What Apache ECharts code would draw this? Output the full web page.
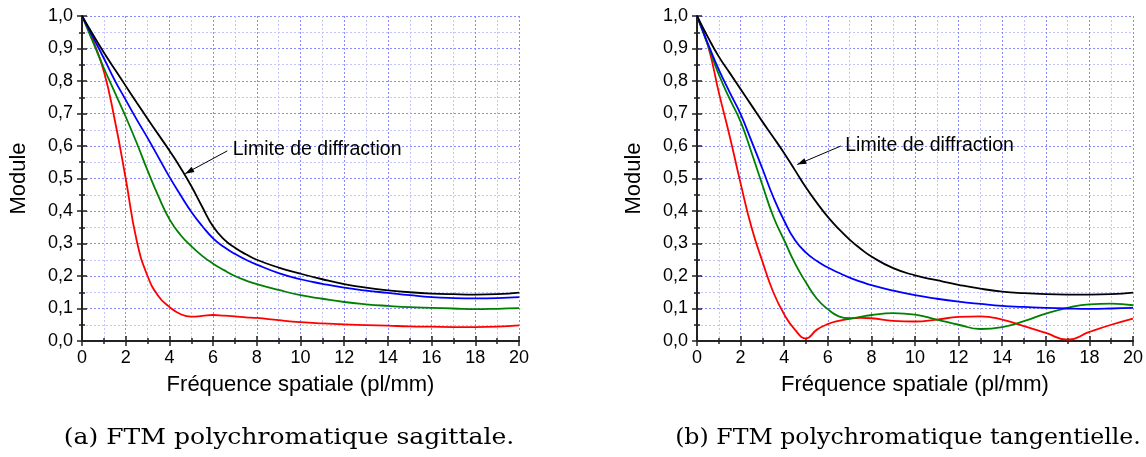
<!DOCTYPE html>
<html><head><meta charset="utf-8">
<script src="https://cdn.jsdelivr.net/npm/echarts@6/dist/echarts.min.js"></script>
<style>html,body{margin:0;padding:0;background:#fff}#c{width:1146px;height:457px}</style>
</head><body><div id="c"></div>
<script>
// ---- data (frequency pl/mm, modulus) ----
const sagBlack = [[0,1],[0.5,0.943],[1,0.888],[1.5,0.836],[2,0.785],[2.5,0.734],[3,0.684],[3.5,0.635],[4,0.586],[4.5,0.534],[5,0.477],[5.5,0.413],[6,0.352],[6.5,0.313],[7,0.287],[7.5,0.267],[8,0.25],[9,0.226],[10,0.207],[11,0.19],[12,0.175],[13,0.164],[14,0.156],[15,0.15],[16,0.146],[17,0.144],[18,0.143],[19,0.144],[20,0.149]];
const sagBlue = [[0,1],[0.5,0.935],[1,0.87],[1.5,0.802],[2,0.742],[2.5,0.682],[3,0.625],[3.5,0.565],[4,0.505],[4.5,0.45],[5,0.398],[5.5,0.354],[6,0.316],[6.5,0.289],[7,0.268],[7.5,0.25],[8,0.235],[9,0.209],[10,0.19],[11,0.176],[12,0.164],[13,0.155],[14,0.148],[15,0.141],[16,0.135],[17,0.132],[18,0.131],[19,0.132],[20,0.135]];
const sagGreen = [[0,1],[0.5,0.92],[1,0.84],[1.5,0.765],[2,0.69],[2.5,0.61],[3,0.525],[3.5,0.445],[4,0.375],[4.5,0.327],[5,0.292],[5.5,0.262],[6,0.238],[6.5,0.218],[7,0.2],[7.5,0.186],[8,0.175],[9,0.157],[10,0.141],[11,0.13],[12,0.12],[13,0.113],[14,0.108],[15,0.104],[16,0.102],[17,0.1],[18,0.098],[19,0.099],[20,0.101]];
const sagRed = [[0,1],[0.5,0.925],[1,0.83],[1.5,0.68],[2,0.5],[2.5,0.31],[3,0.2],[3.5,0.138],[4,0.105],[4.5,0.083],[5,0.075],[5.5,0.077],[6,0.08],[6.5,0.078],[7,0.076],[7.5,0.073],[8,0.071],[9,0.064],[10,0.058],[11,0.054],[12,0.051],[13,0.049],[14,0.047],[15,0.045],[16,0.044],[17,0.043],[18,0.043],[19,0.044],[20,0.048]];

const tanBlack = [[0,1],[0.5,0.935],[1,0.875],[1.5,0.825],[2,0.775],[2.5,0.725],[3,0.675],[3.5,0.627],[4,0.578],[4.5,0.525],[5,0.472],[5.5,0.425],[6,0.382],[6.5,0.345],[7,0.312],[7.5,0.284],[8,0.26],[9,0.224],[10,0.202],[11,0.187],[12,0.173],[13,0.161],[14,0.152],[15,0.147],[16,0.144],[17,0.143],[18,0.143],[19,0.144],[20,0.149]];
const tanBlue = [[0,1],[0.5,0.915],[1,0.835],[1.5,0.765],[2,0.698],[2.5,0.615],[3,0.53],[3.5,0.443],[4,0.37],[4.5,0.31],[5,0.272],[5.5,0.246],[6,0.226],[6.5,0.21],[7,0.195],[7.5,0.183],[8,0.172],[9,0.155],[10,0.141],[11,0.13],[12,0.121],[13,0.114],[14,0.108],[15,0.105],[16,0.102],[17,0.1],[18,0.099],[19,0.1],[20,0.102]];
const tanGreen = [[0,1],[0.5,0.91],[1,0.82],[1.5,0.745],[2,0.675],[2.5,0.58],[3,0.48],[3.5,0.383],[4,0.31],[4.5,0.238],[5,0.18],[5.5,0.13],[6,0.098],[6.5,0.076],[7,0.07],[7.5,0.074],[8,0.08],[9,0.086],[10,0.081],[11,0.066],[12,0.05],[13,0.037],[14,0.043],[15,0.061],[16,0.084],[17,0.102],[18,0.113],[19,0.115],[20,0.11]];
const tanRed = [[0,1],[0.5,0.91],[1,0.765],[1.5,0.63],[2,0.485],[2.5,0.35],[3,0.245],[3.5,0.15],[4,0.082],[4.5,0.034],[5,0.008],[5.5,0.035],[6,0.052],[6.5,0.062],[7,0.068],[7.5,0.071],[8,0.07],[9,0.062],[10,0.06],[11,0.066],[12,0.074],[13,0.076],[14,0.066],[15,0.046],[16,0.025],[17,0.004],[18,0.028],[19,0.05],[20,0.069]];

const xName = 'Fréquence spatiale (pl/mm)';
const yName = 'Module';
const captions = ['(a) FTM polychromatique sagittale.', '(b) FTM polychromatique tangentielle.'];
const annotText = 'Limite de diffraction';
// annotation positions in data units: [textX, textY, arrowStartX, arrowStartY, tipX, tipY]
const annotations = [[6.9, 0.59, 6.65, 0.585, 4.72, 0.515], [6.8, 0.6, 6.6, 0.6, 4.6, 0.543]];

const colors = {black:'#000000', blue:'#0000ff', green:'#008000', red:'#ff0000'};
const FONT = "'Liberation Sans', Arial, sans-serif";

const chart = echarts.init(document.getElementById('c'), null, {renderer:'canvas'});
const grids = [
  {left:82, top:16, width:437, height:325},
  {left:697, top:16, width:436, height:325}
];
const frameLine = {show:true, lineStyle:{color:'#222', width:2}};
const tickStyle = {color:'#222', width:1.5};
const xAxes = [], yAxes = [];
for (let g = 0; g < 2; g++) {
  xAxes.push({
    type:'value', gridIndex:g, min:0, max:20, interval:2, position:'bottom',
    name:xName, nameLocation:'middle', nameGap:33,
    nameTextStyle:{fontFamily:FONT, fontSize:22, color:'#000'},
    axisLine:frameLine,
    axisTick:{show:true, inside:true, length:5, lineStyle:tickStyle},
    minorTick:{show:true, splitNumber:2, length:3, lineStyle:tickStyle},
    axisLabel:{fontFamily:FONT, fontSize:18, color:'#000', margin:8},
    splitLine:{show:true, lineStyle:{color:'#8a8aff', type:[2,2], width:1}},
    minorSplitLine:{show:true, lineStyle:{color:'#c4c4ff', type:[2,2], width:1}}
  });
  xAxes.push({
    type:'value', gridIndex:g, min:0, max:20, interval:2, position:'top',
    axisLine:frameLine,
    axisTick:{show:true, inside:true, length:5, lineStyle:tickStyle},
    minorTick:{show:true, splitNumber:2, length:3, lineStyle:tickStyle},
    axisLabel:{show:false}, splitLine:{show:false}
  });
  yAxes.push({
    type:'value', gridIndex:g, min:0, max:1, interval:0.1, position:'left',
    name:yName, nameLocation:'middle', nameGap:52, nameRotate:90,
    nameTextStyle:{fontFamily:FONT, fontSize:22, color:'#000'},
    axisLine:frameLine,
    axisTick:{show:true, inside:true, length:5, lineStyle:tickStyle},
    minorTick:{show:true, splitNumber:2, length:3, lineStyle:tickStyle},
    axisLabel:{fontFamily:FONT, fontSize:18, color:'#000', margin:9,
      formatter: v => (Math.round(v*10)/10).toFixed(1).replace('.', ',')},
    splitLine:{show:true, lineStyle:{color:'#8a8aff', type:[2,2], width:1}},
    minorSplitLine:{show:true, lineStyle:{color:'#c4c4ff', type:[2,2], width:1}}
  });
  yAxes.push({
    type:'value', gridIndex:g, min:0, max:1, interval:0.1, position:'right',
    axisLine:frameLine,
    axisTick:{show:true, inside:true, length:5, lineStyle:tickStyle},
    minorTick:{show:true, splitNumber:2, length:3, lineStyle:tickStyle},
    axisLabel:{show:false}, splitLine:{show:false}
  });
}
function line(data, color, g) {
  return {type:'line', data:data, xAxisIndex:g*2, yAxisIndex:g*2, smooth:0.5,
    symbol:'none', lineStyle:{color:color, width:1.8}, z:3, animation:false};
}
const series = [
  line(sagRed, colors.red, 0), line(sagGreen, colors.green, 0), line(sagBlue, colors.blue, 0), line(sagBlack, colors.black, 0),
  line(tanRed, colors.red, 1), line(tanGreen, colors.green, 1), line(tanBlue, colors.blue, 1), line(tanBlack, colors.black, 1)
];
chart.setOption({
  animation:false,
  grid:grids, xAxis:xAxes, yAxis:yAxes, series:series
});

const graphics = [];
// captions (serif, widened to match the LaTeX caption width)
const capCenters = [289, 908];
const capScale = [1.14, 1.075];
captions.forEach((t, i) => {
  graphics.push({type:'text', x:capCenters[i], y:438, scaleX:capScale[i],
    style:{text:t, fontFamily:"'DejaVu Serif', serif", fontSize:22, fill:'#000', align:'center', verticalAlign:'middle'}});
});
// annotations placed through the axes' scales
annotations.forEach((a, g) => {
  const finder = {xAxisIndex:g*2, yAxisIndex:g*2};
  const tp = chart.convertToPixel(finder, [a[0], a[1]]);
  const s = chart.convertToPixel(finder, [a[2], a[3]]);
  const t = chart.convertToPixel(finder, [a[4], a[5]]);
  graphics.push({type:'text', x:tp[0], y:tp[1], style:{text:annotText, fontFamily:FONT, fontSize:19.5, fill:'#000', verticalAlign:'middle'}, z:10});
  graphics.push({type:'line', shape:{x1:s[0], y1:s[1], x2:t[0], y2:t[1]}, style:{stroke:'#000', lineWidth:1}, z:10});
  const ang = Math.atan2(t[1]-s[1], t[0]-s[0]);
  const L = 9, W = 3;
  const bx = t[0] - L*Math.cos(ang), by = t[1] - L*Math.sin(ang);
  graphics.push({type:'polygon', shape:{points:[[t[0], t[1]], [bx + W*Math.sin(ang), by - W*Math.cos(ang)], [bx - W*Math.sin(ang), by + W*Math.cos(ang)]]}, style:{fill:'#000'}, z:10});
});
chart.setOption({graphic:graphics});
</script></body></html>
